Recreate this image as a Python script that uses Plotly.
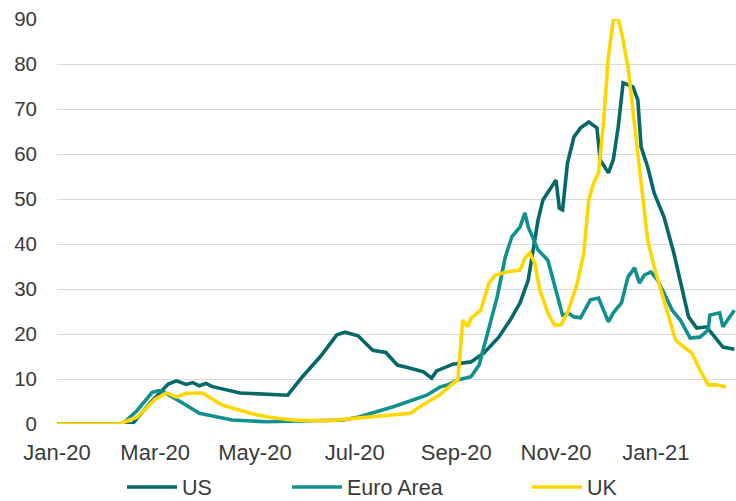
import plotly.graph_objects as go

# ---------------- data ----------------
us_dates = ["2020-01-01", "2020-02-16", "2020-02-27", "2020-03-09", "2020-03-14", "2020-03-20",
            "2020-03-24", "2020-03-28", "2020-04-01", "2020-04-05", "2020-04-22", "2020-05-08",
            "2020-05-21", "2020-05-30", "2020-06-10", "2020-06-20", "2020-06-25", "2020-07-03",
            "2020-07-12", "2020-07-20", "2020-07-27", "2020-08-04", "2020-08-12", "2020-08-17",
            "2020-08-20", "2020-08-30", "2020-09-10", "2020-09-18", "2020-09-27", "2020-10-04",
            "2020-10-10", "2020-10-15", "2020-10-18", "2020-10-21", "2020-10-24", "2020-10-29",
            "2020-11-01", "2020-11-03", "2020-11-05", "2020-11-08", "2020-11-12", "2020-11-16",
            "2020-11-21", "2020-11-26", "2020-11-28", "2020-12-03", "2020-12-06", "2020-12-09",
            "2020-12-12", "2020-12-18", "2020-12-21", "2020-12-23", "2020-12-27", "2020-12-31",
            "2021-01-06", "2021-01-12", "2021-01-17", "2021-01-21", "2021-01-26", "2021-02-01",
            "2021-02-05", "2021-02-11", "2021-02-18"]
us_values = [0, 0, 4.7, 8.9, 9.6, 8.8,
             9.2, 8.5, 9.0, 8.3, 6.9, 6.6,
             6.4, 10.5, 15.0, 19.8, 20.4, 19.6,
             16.4, 15.9, 13.1, 12.4, 11.6, 10.2,
             11.8, 13.3, 13.8, 15.8, 19.3, 23.1,
             26.9, 32.0, 39.3, 45.3, 49.8, 52.7,
             54.2, 48.0, 47.6, 58.0, 63.8, 65.8,
             67.1, 65.8, 58.7, 55.8, 58.7, 66.0,
             75.8, 74.9, 72.0, 61.6, 57.1, 51.3,
             46.0, 38.0, 30.4, 23.8, 21.3, 21.6,
             19.8, 17.1, 16.6]

euro_dates = ["2020-01-01", "2020-02-10", "2020-02-19", "2020-02-28", "2020-03-03", "2020-03-06",
              "2020-03-18", "2020-03-28", "2020-04-17", "2020-05-08", "2020-06-24", "2020-07-04",
              "2020-07-25", "2020-08-14", "2020-08-22", "2020-08-27", "2020-09-02", "2020-09-10",
              "2020-09-15", "2020-09-21", "2020-09-26", "2020-10-01", "2020-10-05", "2020-10-10",
              "2020-10-13", "2020-10-15", "2020-10-21", "2020-10-27", "2020-11-01", "2020-11-05",
              "2020-11-09", "2020-11-12", "2020-11-16", "2020-11-22", "2020-11-27", "2020-12-03",
              "2020-12-06", "2020-12-11", "2020-12-15", "2020-12-19", "2020-12-22", "2020-12-25",
              "2020-12-29", "2021-01-02", "2021-01-06", "2021-01-11", "2021-01-16", "2021-01-22",
              "2021-01-28", "2021-02-02", "2021-02-03", "2021-02-09", "2021-02-11", "2021-02-15",
              "2021-02-18"]
euro_values = [0, 0, 3.0, 7.0, 7.4, 7.2,
               4.6, 2.4, 0.9, 0.5, 0.9, 1.6,
               3.9, 6.4, 8.2, 8.7, 9.8, 10.5,
               13.1, 21.6, 28.2, 37.1, 41.6, 43.8,
               46.9, 43.8, 38.7, 36.4, 29.8, 24.2,
               24.5, 23.8, 23.6, 27.6, 28.0, 22.7,
               24.7, 26.9, 32.7, 34.7, 31.3, 33.1,
               33.8, 32.0, 29.1, 25.3, 23.1, 19.1,
               19.3, 20.9, 24.2, 24.7, 21.6, 23.8,
               25.3]

uk_dates = ["2020-01-01", "2020-02-08", "2020-02-19", "2020-03-01", "2020-03-08", "2020-03-14",
            "2020-03-20", "2020-03-30", "2020-04-11", "2020-04-28", "2020-05-08", "2020-05-24",
            "2020-06-14", "2020-07-04", "2020-07-25", "2020-08-04", "2020-08-10", "2020-08-22",
            "2020-08-30", "2020-09-02", "2020-09-05", "2020-09-08", "2020-09-10", "2020-09-16",
            "2020-09-21", "2020-09-25", "2020-10-02", "2020-10-10", "2020-10-13", "2020-10-16",
            "2020-10-19", "2020-10-22", "2020-10-27", "2020-10-31", "2020-11-04", "2020-11-08",
            "2020-11-14", "2020-11-18", "2020-11-21", "2020-11-24", "2020-11-27", "2020-11-30",
            "2020-12-03", "2020-12-06", "2020-12-09", "2020-12-12", "2020-12-15", "2020-12-19",
            "2020-12-23", "2020-12-27", "2020-12-31", "2021-01-04", "2021-01-08", "2021-01-13",
            "2021-01-18", "2021-01-23", "2021-01-28", "2021-02-02", "2021-02-07", "2021-02-13"]
uk_values = [0, 0, 1.5, 5.5, 6.9, 6.0,
             6.8, 6.9, 4.2, 2.4, 1.6, 0.9,
             0.7, 1.3, 2.0, 2.4, 3.9, 6.5,
             9.0, 9.8, 23.1, 21.6, 23.5, 25.3,
             31.3, 33.1, 33.8, 34.2, 36.9, 38.0,
             35.8, 29.8, 24.7, 22.0, 22.0, 24.7,
             31.3, 38.0, 49.8, 53.6, 55.8, 66.9,
             81.6, 89.8, 90.2, 85.3, 79.3, 66.0,
             52.7, 40.9, 34.9, 29.8, 25.3, 18.7,
             17.1, 15.8, 12.0, 8.7, 8.7, 8.2]

tick_dates = ["2020-01-01", "2020-03-01", "2020-05-01", "2020-07-01",
              "2020-09-01", "2020-11-01", "2021-01-01"]
tick_labels = ["Jan-20", "Mar-20", "May-20", "Jul-20", "Sep-20", "Nov-20", "Jan-21"]
y_ticks = [0, 10, 20, 30, 40, 50, 60, 70, 80, 90]

# ---------------- figure ----------------
FONT = "Liberation Sans, Arial, sans-serif"
TXT = "#3a3a3a"

fig = go.Figure()
fig.add_trace(go.Scatter(x=us_dates, y=us_values, name="US", mode="lines",
                         line=dict(color="#066868", width=3.6), legend="legend"))
fig.add_trace(go.Scatter(x=euro_dates, y=euro_values, name="Euro Area", mode="lines",
                         line=dict(color="#10918E", width=3.6), legend="legend2"))
fig.add_trace(go.Scatter(x=uk_dates, y=uk_values, name="UK", mode="lines",
                         line=dict(color="#FFD700", width=3.6), legend="legend3"))

leg_common = dict(orientation="h", xref="container", yref="container",
                  yanchor="middle", xanchor="left", y=0.028,
                  bgcolor="rgba(0,0,0,0)", borderwidth=0, itemwidth=50,
                  font=dict(family=FONT, size=21.5, color=TXT))

fig.update_layout(
    width=736, height=501,
    margin=dict(l=57, r=0, t=19, b=77, autoexpand=False),
    paper_bgcolor="white", plot_bgcolor="white",
    showlegend=True,
    legend=dict(x=122 / 736, **leg_common),
    legend2=dict(x=287 / 736, **leg_common),
    legend3=dict(x=527 / 736, **leg_common),
    xaxis=dict(type="date", range=["2020-01-01", "2021-02-19"], automargin=False,
               tickmode="array", tickvals=tick_dates, ticktext=tick_labels,
               showgrid=False, zeroline=False, showline=False,
               ticks="", ticklabelstandoff=13,
               tickfont=dict(family=FONT, size=22, color=TXT)),
    yaxis=dict(range=[0, 90], tickmode="array", tickvals=y_ticks, automargin=False,
               showgrid=True, gridcolor="#d9d9d9", gridwidth=1.3,
               zeroline=False, showline=False, ticks="", ticklabelstandoff=19,
               tickfont=dict(family=FONT, size=20.5, color=TXT)),
)

fig.write_html("out.html", config={"displayModeBar": False},
               post_script="document.body.style.margin='0';document.body.style.padding='0';")
